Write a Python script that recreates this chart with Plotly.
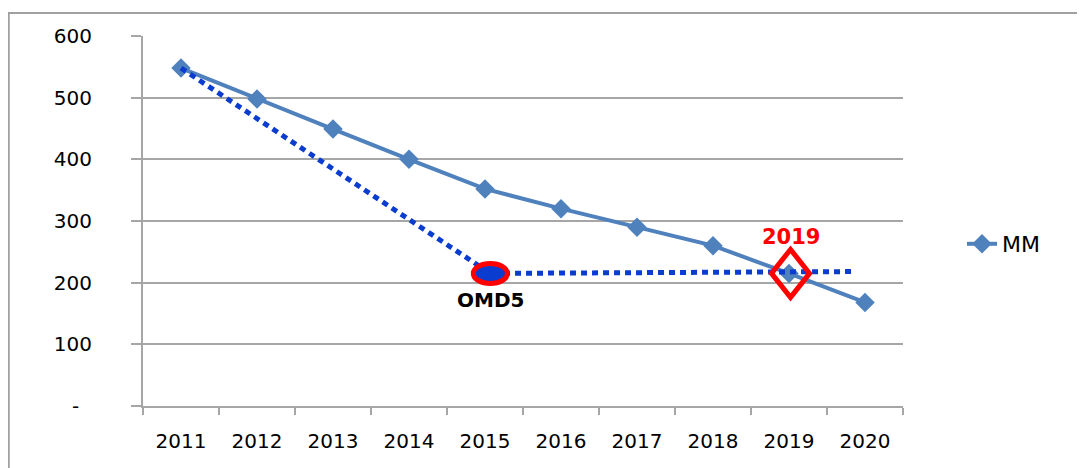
import plotly.graph_objects as go

years = ["2011", "2012", "2013", "2014", "2015", "2016", "2017", "2018", "2019", "2020"]
mm_values = [548, 498, 449, 400, 352, 320, 290, 260, 215, 168]

# Dotted target path (category index positions, values)
target_x = [0, 4.07, 8.83]
target_y = [548, 215, 218]

y_ticks = [0, 100, 200, 300, 400, 500, 600]
y_ticktext = ["-\u00a0\u00a0", "100", "200", "300", "400", "500", "600"]

omd_point = (4.07, 215)
mark_2019 = (8.02, 215)

x_idx = list(range(len(years)))

GRAY = "#A6A6A6"
FONT = "DejaVu Sans"

fig = go.Figure()

fig.add_trace(go.Scatter(
    x=x_idx, y=mm_values, mode="lines+markers", name="MM",
    line=dict(color="#4F81BD", width=4),
    marker=dict(symbol="diamond", size=15, color="#4F81BD"),
))

fig.add_trace(go.Scatter(
    x=target_x, y=target_y, mode="lines", showlegend=False,
    line=dict(color="#0A3CD0", width=5, dash="6px,5px"),
))

# Ellipse at OMD5 point
fig.add_shape(type="circle", xref="x", yref="y",
              xsizemode="pixel", ysizemode="pixel",
              xanchor=omd_point[0], yanchor=omd_point[1],
              x0=-17, x1=17, y0=-10, y1=10,
              line=dict(color="#FF0000", width=5), fillcolor="#0A3CD0",
              layer="above")

# Diamond at 2019
fig.add_shape(type="path", xref="x", yref="y",
              xsizemode="pixel", ysizemode="pixel",
              xanchor=mark_2019[0], yanchor=mark_2019[1],
              path="M -19 0 L 0 24 L 19 0 L 0 -24 Z",
              line=dict(color="#FF0000", width=5),
              layer="above")

fig.add_annotation(x=omd_point[0], y=172, xref="x", yref="y", text="<b>OMD5</b>",
                   showarrow=False, font=dict(family=FONT, size=20, color="black"))
fig.add_annotation(x=mark_2019[0], y=274, xref="x", yref="y", text="<b>2019</b>",
                   showarrow=False, font=dict(family=FONT, size=21, color="#FF0000"))

# Page has an 8px body margin; figure placed at (8, 8)
OFF = 8
FW, FH = 1077, 460
L, R, T, B = 143 - OFF, 903 - OFF, 36 - OFF, 406 - OFF
W, H = R - L, B - T
fx = (8 - OFF - L) / W
fy = (B - (13 - OFF)) / H
fig.add_shape(type="line", xref="paper", yref="paper", x0=fx, x1=1.5, y0=fy, y1=fy,
              line=dict(color="#A0A0A0", width=2))
fig.add_shape(type="line", xref="paper", yref="paper", x0=fx + 0.001, x1=fx + 0.001, y0=fy, y1=-0.5,
              line=dict(color="#A0A0A0", width=2))

fig.update_layout(
    width=FW, height=FH,
    margin=dict(l=L, r=FW - R, t=T, b=FH - B),
    paper_bgcolor="white", plot_bgcolor="white",
    font=dict(family=FONT, size=20, color="black"),
    showlegend=True,
    legend=dict(x=(962 - OFF - L) / W, y=(B - (244 - OFF)) / H, xanchor="left", yanchor="middle",
                font=dict(family=FONT, size=22, color="black"),
                bgcolor="rgba(0,0,0,0)"),
    xaxis=dict(
        range=[-0.5, 9.5], tickmode="array", tickvals=x_idx, ticktext=years,
        ticks="", showgrid=False, zeroline=False,
        showline=True, linecolor=GRAY, linewidth=2,
        ticklabelstandoff=16,
        minor=dict(tickmode="array", tickvals=[i - 0.5 for i in range(11)],
                   ticks="outside", ticklen=7, tickcolor=GRAY, tickwidth=2,
                   showgrid=False),
    ),
    yaxis=dict(
        range=[0, 600], tickmode="array", tickvals=y_ticks, ticktext=y_ticktext,
        ticks="outside", ticklen=10, tickcolor=GRAY, tickwidth=2,
        showgrid=True, gridcolor=GRAY, gridwidth=1.5, zeroline=False,
        showline=True, linecolor=GRAY, linewidth=2,
        ticklabelstandoff=35,
    ),
)

fig.write_html("out.html")
